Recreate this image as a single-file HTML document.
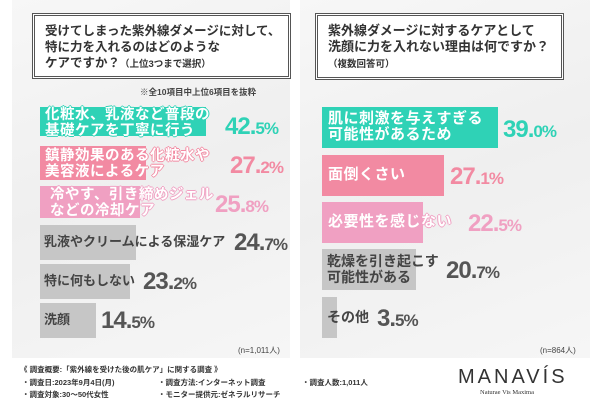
<!DOCTYPE html>
<html><head><meta charset="utf-8"><style>
*{margin:0;padding:0;box-sizing:border-box}
body{width:600px;height:400px;position:relative;overflow:hidden;background:#fff;font-family:"Liberation Sans","Noto Sans CJK JP",sans-serif}
.p{position:absolute;background:linear-gradient(160deg,#f7f7f7,#efefef 50%,#f6f6f6)}
.a{position:absolute}
.box{position:absolute;border:3px double #555;background:#fff;padding:7px 0 0 10px;font-size:12.5px;line-height:16px;color:#333;font-weight:bold;white-space:nowrap}
.box small{font-size:9.5px}
.bar{position:absolute}
.lbl{position:absolute;font-weight:bold;color:#fff;font-size:14.5px;line-height:16px;white-space:nowrap;letter-spacing:0.5px}
.g{color:#444;font-size:13px;letter-spacing:0}
.pc{position:absolute;font-weight:bold;font-size:24px;letter-spacing:-1px;white-space:nowrap}
.pc span{font-size:17px}
.t{background:#2fd2b6}.k{background:#f28aa2}.l{background:#f0a0c2}.y{background:#c6c6c6}
.ct{color:#2fd2b6}.ck{color:#f28aa2}.cl{color:#f0a0c2}.cy{color:#555}
.st{text-shadow:1px 0 #2fd2b6,-1px 0 #2fd2b6,0 1px #2fd2b6,0 -1px #2fd2b6}
.sk{text-shadow:1px 0 #f28aa2,-1px 0 #f28aa2,0 1px #f28aa2,0 -1px #f28aa2}
.sl{text-shadow:1px 0 #f0a0c2,-1px 0 #f0a0c2,0 1px #f0a0c2,0 -1px #f0a0c2}
.foot{position:absolute;font-size:7.5px;color:#333;white-space:nowrap;font-weight:bold}
</style></head><body>
<div class="p" style="left:12px;top:0;width:278px;height:358px"></div>
<div class="p" style="left:300px;top:0;width:290px;height:358px"></div>

<div class="box" style="left:32px;top:13px;width:259px;height:66px">受けてしまった紫外線ダメージに対して、<br>特に力を入れるのはどのような<br>ケアですか？<small>（上位3つまで選択）</small></div>
<div class="a" style="left:140px;top:86px;font-size:8.5px;color:#444;font-weight:bold">※全10項目中上位6項目を抜粋</div>

<div class="bar t" style="left:40px;top:107px;width:166px;height:29px"></div>
<div class="lbl st" style="left:45px;top:107px">化粧水、乳液など普段の<br>基礎ケアを丁寧に行う</div>
<div class="pc ct" style="left:225px;top:113px">42.<span>5%</span></div>

<div class="bar k" style="left:40px;top:146px;width:106px;height:34px"></div>
<div class="lbl sk" style="left:45px;top:148px">鎮静効果のある化粧水や<br>美容液によるケア</div>
<div class="pc ck" style="left:230px;top:152px">27.<span>2%</span></div>

<div class="bar l" style="left:40px;top:186px;width:100px;height:32px"></div>
<div class="lbl sl" style="left:50px;top:187px">冷やす、引き締めジェル<br>などの冷却ケア</div>
<div class="pc cl" style="left:215px;top:191px">25.<span>8%</span></div>

<div class="bar y" style="left:40px;top:225px;width:96px;height:35px"></div>
<div class="lbl g" style="left:44px;top:234px">乳液やクリームによる保湿ケア</div>
<div class="pc cy" style="left:234px;top:229px">24.<span>7%</span></div>

<div class="bar y" style="left:40px;top:264px;width:90px;height:35px"></div>
<div class="lbl g" style="left:44px;top:273px">特に何もしない</div>
<div class="pc cy" style="left:143px;top:268px">23.<span>2%</span></div>

<div class="bar y" style="left:40px;top:303px;width:56px;height:35px"></div>
<div class="lbl g" style="left:44px;top:312px">洗顔</div>
<div class="pc cy" style="left:101px;top:307px">14.<span>5%</span></div>
<div class="a" style="left:238px;top:345px;font-size:8px;color:#444">(n=1,011人)</div>

<div class="box" style="left:315px;top:13px;width:249px;height:67px;font-size:13px">紫外線ダメージに対するケアとして<br>洗顔に力を入れない理由は何ですか？<br><small>（複数回答可）</small></div>

<div class="bar t" style="left:322px;top:107px;width:176px;height:41px"></div>
<div class="lbl st" style="left:328px;top:111px;font-size:15px">肌に刺激を与えすぎる<br>可能性があるため</div>
<div class="pc ct" style="left:503px;top:116px">39.<span>0%</span></div>

<div class="bar k" style="left:322px;top:155px;width:122px;height:41px"></div>
<div class="lbl" style="left:328px;top:167px;font-size:15px">面倒くさい</div>
<div class="pc ck" style="left:450px;top:163px">27.<span>1%</span></div>

<div class="bar l" style="left:322px;top:202px;width:101px;height:41px"></div>
<div class="lbl sl" style="left:328px;top:214px;font-size:15px">必要性を感じない</div>
<div class="pc cl" style="left:468px;top:210px">22.<span>5%</span></div>

<div class="bar y" style="left:322px;top:249px;width:94px;height:41px"></div>
<div class="lbl g" style="left:327px;top:253px;font-size:14px">乾燥を引き起こす<br>可能性がある</div>
<div class="pc cy" style="left:446px;top:257px">20.<span>7%</span></div>

<div class="bar y" style="left:322px;top:297px;width:15px;height:41px"></div>
<div class="lbl g" style="left:327px;top:309px;font-size:14px">その他</div>
<div class="pc cy" style="left:377px;top:305px">3.<span>5%</span></div>
<div class="a" style="left:540px;top:345px;font-size:8px;color:#444">(n=864人)</div>

<div class="foot" style="left:20px;top:364px">《 調査概要:「紫外線を受けた後の肌ケア」に関する調査 》</div>
<div class="foot" style="left:22px;top:377px">・調査日:2023年9月4日(月)</div>
<div class="foot" style="left:22px;top:389px">・調査対象:30〜50代女性</div>
<div class="foot" style="left:158px;top:377px">・調査方法:インターネット調査</div>
<div class="foot" style="left:158px;top:389px">・モニター提供元:ゼネラルリサーチ</div>
<div class="foot" style="left:302px;top:377px">・調査人数:1,011人</div>
<div class="a" style="left:458px;top:366px;font-size:20px;letter-spacing:3px;color:#333;font-family:'Liberation Sans',sans-serif">MANAVÍS</div>
<div class="a" style="left:480px;top:389px;font-size:6.5px;color:#333;font-family:'Liberation Serif',serif">Naturae Vis Maxima</div>
</body></html>
